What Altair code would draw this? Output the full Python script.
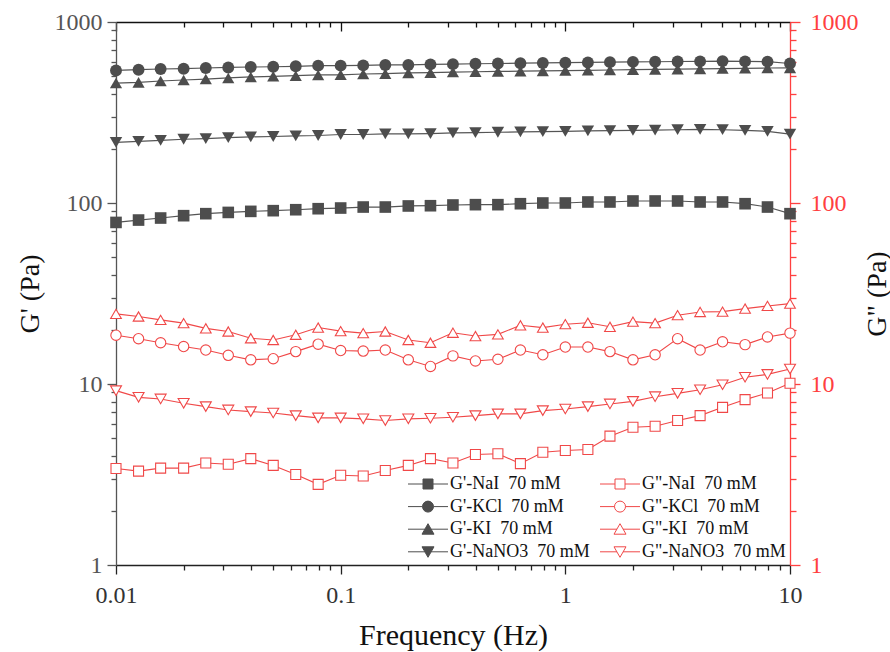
import altair as alt
import pandas as pd

FONT = "Liberation Serif, Times New Roman, Tinos, DejaVu Serif, serif"

freq = [0.01, 0.0126, 0.0158, 0.02, 0.0251, 0.0316, 0.0398, 0.0501, 0.0631, 0.0794,
        0.1, 0.126, 0.158, 0.2, 0.251, 0.316, 0.398, 0.501, 0.631, 0.794,
        1, 1.26, 1.58, 2, 2.51, 3.16, 3.98, 5.01, 6.31, 7.94, 10]

salts = ["NaI", "KCl", "KI", "NaNO3"]

gp_NaI = [78.1, 80.5, 82.6, 85.1, 87.3, 88.7, 89.9, 90.7, 91.8, 93.0, 93.8, 95.0, 95.0, 96.3, 96.6,
          97.5, 97.9, 97.9, 99.1, 100, 100, 101.3, 101.3, 102.6, 102.6, 102.6, 101.3, 101.3, 99.1, 95.0, 87.3]
gp_KCl = [540, 545, 550, 552, 557, 561, 564, 566, 569, 574, 574, 576, 579, 579, 583,
          585, 588, 590, 592, 594, 596, 598, 600, 602, 603, 605, 606, 608, 606, 604, 590]
gp_KI = [460, 464, 472, 478, 484, 491, 497, 501, 505, 510, 511, 516, 518, 523, 525,
         529, 531, 533, 535, 537, 539, 541, 543, 545, 547, 549, 551, 553, 555, 557, 558]
gp_NaNO3 = [216, 219, 222, 225, 227, 230, 232, 233, 235, 236, 239, 239, 241, 241, 242,
            244, 245, 246, 247, 248, 249, 250, 251, 252, 253, 254, 255, 254, 252, 249, 240]

gpp_NaI = [3.41, 3.30, 3.43, 3.43, 3.66, 3.60, 3.87, 3.55, 3.16, 2.79, 3.13, 3.10, 3.33, 3.55, 3.87,
           3.66, 4.08, 4.12, 3.63, 4.20, 4.29, 4.35, 5.15, 5.77, 5.84, 6.28, 6.69, 7.43, 8.20, 8.92, 10.1]
gpp_KCl = [18.6, 17.8, 16.9, 16.1, 15.4, 14.4, 13.6, 13.8, 15.1, 16.6, 15.3, 15.2, 15.4, 13.6, 12.5,
           14.3, 13.4, 13.7, 15.4, 14.5, 16.0, 16.0, 15.1, 13.6, 14.5, 17.8, 15.4, 17.1, 16.5, 18.2, 19.1]
gpp_KI = [24.4, 23.6, 22.6, 21.7, 20.3, 19.5, 17.9, 17.5, 18.7, 20.5, 19.6, 19.1, 19.5, 17.5, 16.9,
          19.2, 18.4, 18.8, 21.1, 20.5, 21.4, 21.8, 20.7, 22.1, 21.7, 24.0, 25.0, 25.1, 26.1, 27.0, 27.8]
gpp_NaNO3 = [9.19, 8.44, 8.27, 7.82, 7.50, 7.19, 7.04, 6.92, 6.69, 6.50, 6.50, 6.42, 6.28, 6.42, 6.47,
             6.55, 6.69, 6.84, 6.84, 7.13, 7.28, 7.50, 7.76, 8.02, 8.51, 8.88, 9.30, 9.91, 10.9, 11.3, 12.1]

gp = {"NaI": gp_NaI, "KCl": gp_KCl, "KI": gp_KI, "NaNO3": gp_NaNO3}
gpp = {"NaI": gpp_NaI, "KCl": gpp_KCl, "KI": gpp_KI, "NaNO3": gpp_NaNO3}

x_ticks = [0.01, 0.02, 0.03, 0.04, 0.05, 0.06, 0.07, 0.08, 0.09,
           0.1, 0.2, 0.3, 0.4, 0.5, 0.6, 0.7, 0.8, 0.9,
           1, 2, 3, 4, 5, 6, 7, 8, 9, 10]
y_ticks = [1, 2, 3, 4, 5, 6, 7, 8, 9, 10, 20, 30, 40, 50, 60, 70, 80, 90,
           100, 200, 300, 400, 500, 600, 700, 800, 900, 1000]

GRAY = "#4d4d4d"
LINEGRAY = "#555555"
RED = "#f04848"
AXRED = "#ff4040"


def label_of(kind, salt):
    return ("G'-" if kind == "gp" else 'G"-') + salt + " \u00a070 mM"


rows = []
for salt in salts:
    for f, v in zip(freq, gp[salt]):
        rows.append({"freq": f, "value": v, "salt": salt, "kind": "gp", "series": label_of("gp", salt)})
    for f, v in zip(freq, gpp[salt]):
        rows.append({"freq": f, "value": v, "salt": salt, "kind": "gpp", "series": label_of("gpp", salt)})
df = pd.DataFrame(rows)

legend_domain = [label_of("gp", s) for s in salts] + [label_of("gpp", s) for s in salts]

sq = "M-4,0H-1M1,0H4M-1,-1H1V1H-1Z"
ci = "M-4,0H-1.1M1.1,0H4M1.1,0A1.1,1.1,0,1,1,-1.1,0A1.1,1.1,0,1,1,1.1,0Z"
tu = "M-4,0H-0.6M0.6,0H4M0,-1.1L1.2,1L-1.2,1Z"
td = "M-4,0H-0.6M0.6,0H4M0,1.1L1.2,-1L-1.2,-1Z"
legend_shapes = [sq, ci, tu, td, sq, ci, tu, td]
legend_fill = [GRAY] * 4 + ["white"] * 4
legend_stroke = [GRAY] * 4 + [RED] * 4

MAJOR = "abs(log(datum.value)/LN10 - round(log(datum.value)/LN10)) < 0.001"
LBL = MAJOR + " ? datum.label : ''"

xscale = alt.Scale(type="log", domain=[0.01, 10], nice=False)
yscale = alt.Scale(type="log", domain=[1, 1000], nice=False)

x_bottom = alt.Axis(orient="bottom", values=x_ticks, format="~g", labelExpr=LBL,
                    tickSize={"condition": {"test": MAJOR, "value": 9}, "value": 5},
                    tickColor="#222222", domainColor="#222222", tickWidth=1.3, domainWidth=1.3,
                    labelFont=FONT, labelFontSize=24, labelColor="#333333", labelPadding=9,
                    labelFlush=False, labelOverlap=False, grid=False,
                    title="Frequency (Hz)", titleFont=FONT, titleFontSize=30,
                    titleFontWeight="normal", titleColor="#111111", titlePadding=13)
x_top = alt.Axis(orient="bottom", offset=-543, values=x_ticks, labels=False,
                 tickSize={"condition": {"test": MAJOR, "value": 9}, "value": 5},
                 tickColor="#111111", domainColor="#111111", tickWidth=1.3, domainWidth=1.3,
                 grid=False, title=None)
y_left = alt.Axis(orient="left", values=y_ticks, format="~g", labelExpr=LBL,
                  tickSize={"condition": {"test": MAJOR, "value": 9}, "value": 5},
                  tickColor="#555555", domainColor="#555555", tickWidth=1.3, domainWidth=1.3,
                  labelFont=FONT, labelFontSize=24, labelColor="#555555", labelPadding=5,
                  labelFlush=False, labelOverlap=False, grid=False,
                  title="G' (Pa)", titleFont=FONT, titleFontSize=28, titleFontWeight="normal",
                  titleColor="#111111", titlePadding=10)
y_right = alt.Axis(orient="right", values=y_ticks, format="~g", labelExpr=LBL,
                   tickSize={"condition": {"test": MAJOR, "value": 10}, "value": 6},
                   tickColor=AXRED, domainColor=AXRED, tickWidth=1.3, domainWidth=1.3,
                   labelFont=FONT, labelFontSize=24, labelColor=AXRED, labelPadding=10,
                   labelFlush=False, labelOverlap=False, grid=False,
                   title='G" (Pa)', titleFont=FONT, titleFontSize=28, titleFontWeight="normal",
                   titleColor="#111111", titlePadding=5, titleAngle=270, titleBaseline="top")

base = alt.Chart(df)

line_gp = base.transform_filter("datum.kind == 'gp'").mark_line(color=LINEGRAY, strokeWidth=1.2).encode(
    x=alt.X("freq:Q", scale=xscale, axis=x_bottom),
    y=alt.Y("value:Q", scale=yscale, axis=y_left),
    detail="series:N", order="freq:Q")

line_gpp = base.transform_filter("datum.kind == 'gpp'").mark_line(color=RED, strokeWidth=1.1).encode(
    x=alt.X("freq:Q", scale=xscale, axis=x_top),
    y=alt.Y("value:Q", scale=yscale, axis=y_right),
    detail="series:N", order="freq:Q")

pts_gp = base.transform_filter("datum.kind == 'gp'").mark_point(
    filled=True, color=GRAY, opacity=1, strokeWidth=0).encode(
    x=alt.X("freq:Q", scale=xscale, axis=None),
    y=alt.Y("value:Q", scale=yscale, axis=None),
    shape=alt.Shape("salt:N", scale=alt.Scale(domain=salts, range=["square", "circle", "triangle-up", "triangle-down"]), legend=None),
    size=alt.Size("salt:N", scale=alt.Scale(domain=salts, range=[135, 155, 175, 175]), legend=None))

pts_gpp = base.transform_filter("datum.kind == 'gpp'").mark_point(
    filled=False, fill="white", stroke=RED, opacity=1, strokeWidth=1.1).encode(
    x=alt.X("freq:Q", scale=xscale, axis=None),
    y=alt.Y("value:Q", scale=yscale, axis=None),
    shape=alt.Shape("salt:N", scale=alt.Scale(domain=salts, range=["square", "circle", "triangle-up", "triangle-down"]), legend=None),
    size=alt.Size("salt:N", scale=alt.Scale(domain=salts, range=[100, 121, 150, 150]), legend=None))

leg = alt.Legend(orient="none", legendX=303, legendY=453, columns=2, title=None,
                 symbolSize=100, symbolStrokeWidth=1, symbolOpacity=1,
                 labelFont=FONT, labelFontSize=18, labelColor="#111111", labelOffset=13,
                 labelLimit=300, rowPadding=4.6, columnPadding=8, padding=0)

legend_layer = base.transform_filter("false").mark_point(opacity=1, filled=True).encode(
    shape=alt.Shape("series:N", scale=alt.Scale(domain=legend_domain, range=legend_shapes), legend=leg),
    fill=alt.Fill("series:N", scale=alt.Scale(domain=legend_domain, range=legend_fill), legend=leg),
    stroke=alt.Stroke("series:N", scale=alt.Scale(domain=legend_domain, range=legend_stroke), legend=leg))

chart = alt.layer(line_gp, line_gpp, pts_gp, pts_gpp, legend_layer).resolve_scale(
    shape="independent", fill="independent", stroke="independent", size="independent"
).resolve_axis(x="independent", y="independent").properties(
    width=674, height=543,
    autosize=alt.AutoSizeParams(type="none"),
    padding={"left": 116, "top": 22, "right": 100, "bottom": 87},
).configure(background="white", font=FONT).configure_view(strokeWidth=0).configure_axis(
    labelFont=FONT, titleFont=FONT
).configure_legend(labelFont=FONT)

chart.save("out.html", embed_options={"renderer": "svg", "actions": False})
